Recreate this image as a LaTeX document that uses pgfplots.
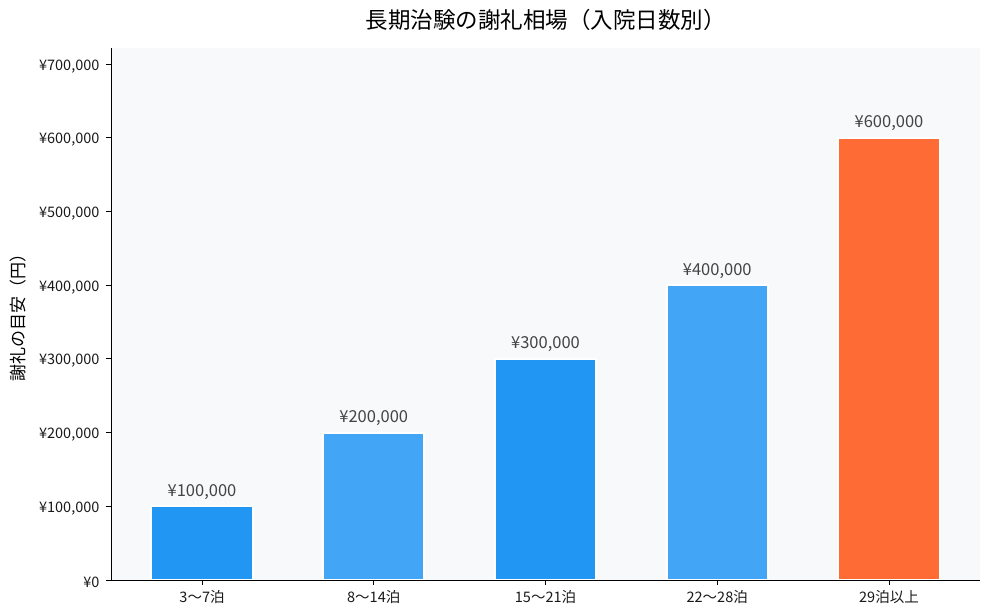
\documentclass[border=0pt]{standalone}
\usepackage{pgfplots}
\pgfplotsset{compat=1.18}
\usepackage{fontspec}
\setmainfont{Noto Sans CJK JP}

\definecolor{bluea}{HTML}{2196F3}
\definecolor{blueb}{HTML}{42A5F5}
\definecolor{orng}{HTML}{FF6B35}
\definecolor{bgcol}{HTML}{F8F9FA}
\definecolor{lblgray}{HTML}{444444}

\begin{document}
\begin{tikzpicture}
\path[use as bounding box] (-111pt,-35pt) rectangle (879pt,580pt);
\begin{axis}[
  at={(0pt,0pt)}, anchor=south west,
  scale only axis,
  width=869pt, height=532pt,
  ybar, bar shift=0pt, bar width=0.59,
  xmin=-0.53, xmax=4.53,
  ymin=0, ymax=722000,
  axis x line*=bottom, axis y line*=left,
  axis line style={line width=0.9pt, black},
  axis background/.style={fill=bgcol},
  axis on top,
  tick align=outside, major tick length=5pt,
  tick style={black, line width=0.9pt},
  xtick={0,1,2,3,4},
  xticklabels={3〜7泊, 8〜14泊, 15〜21泊, 22〜28泊, 29泊以上},
  ytick={0,100000,200000,300000,400000,500000,600000,700000},
  scaled y ticks=false,
  /pgf/number format/assume math mode=true,
  /pgf/number format/.cd, fixed, precision=0, 1000 sep={,}, /pgfplots/.cd,
  yticklabel={¥\pgfmathprintnumber{\tick}},
  ticklabel style={font=\fontsize{14.5pt}{16pt}\selectfont, color=black!90},
  xticklabel style={yshift=-2pt},
  yticklabel style={xshift=-3pt, yshift=-2pt},
  ylabel={謝礼の目安（円）},
  ylabel style={at={(axis description cs:-0.107,0.5)}, anchor=center,
    font=\fontsize{17pt}{19pt}\selectfont},
  title={長期治験の謝礼相場（入院日数別）},
  title style={at={(axis description cs:0.5,1)}, anchor=center, yshift=22pt,
    font=\fontsize{22.5pt}{25pt}\selectfont},
  nodes near coords={¥\pgfmathprintnumber{\pgfplotspointmeta}},
  nodes near coords style={font=\fontsize{16.5pt}{18pt}\selectfont, color=lblgray,
    anchor=south, inner sep=0pt, yshift=6pt},
]
\addplot[fill=bluea, draw=white, line width=2pt] coordinates {(0,100000)};
\addplot[fill=blueb, draw=white, line width=2pt] coordinates {(1,200000)};
\addplot[fill=bluea, draw=white, line width=2pt] coordinates {(2,300000)};
\addplot[fill=blueb, draw=white, line width=2pt] coordinates {(3,400000)};
\addplot[fill=orng, draw=white, line width=2pt] coordinates {(4,600000)};
\end{axis}
\end{tikzpicture}
\end{document}
